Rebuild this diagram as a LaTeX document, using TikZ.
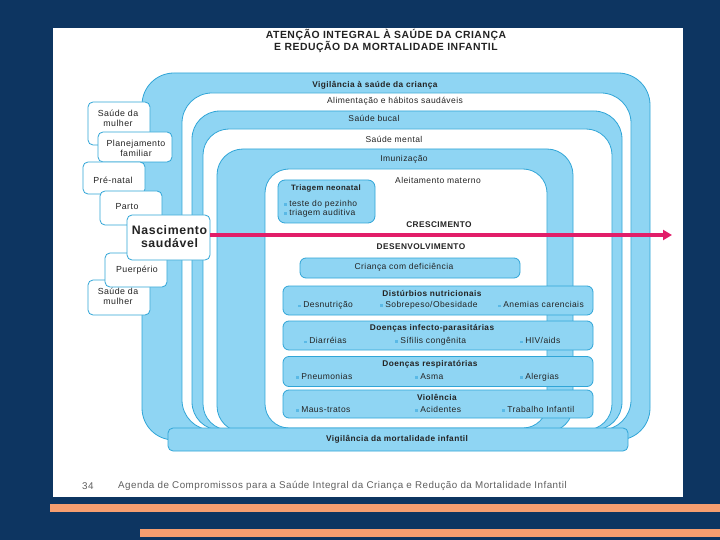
\documentclass[tikz,border=0pt]{standalone}
\usepackage{fontspec}
\setmainfont{Liberation Sans}[LetterSpace=5]
\usetikzlibrary{arrows.meta}
\definecolor{navy}{RGB}{13,53,97}
\definecolor{bandfill}{RGB}{143,213,243}
\definecolor{bandline}{RGB}{48,165,215}
\definecolor{pinkc}{RGB}{226,30,105}
\definecolor{stripec}{RGB}{245,158,112}
\definecolor{txt}{RGB}{35,35,35}
\definecolor{foot}{RGB}{95,95,95}
\definecolor{bulc}{RGB}{90,185,230}
\newcommand{\blt}{\textcolor{bulc}{\rule[0.6pt]{2.6pt}{2.6pt}}\hspace{2.5pt}}
\tikzset{
  band/.style={fill=bandfill, draw=bandline, line width=0.8pt},
  gapband/.style={fill=white, draw=bandline, line width=0.8pt},
  sidebox/.style={draw=bandline, fill=white, rounded corners=5pt, line width=0.8pt, inner sep=0pt},
  dbox/.style={fill=bandfill, draw=bandline, rounded corners=6pt, line width=0.8pt, inner sep=0pt},
  lbl/.style={font=\fontsize{8.5}{9.5}\selectfont, text=txt, inner sep=0pt, align=center, text height=6.2pt, text depth=1.8pt},
  lblb/.style={font=\bfseries\fontsize{8.3}{9.5}\selectfont, text=txt, inner sep=0pt, align=center, text height=6.2pt, text depth=1.8pt},
  item/.style={font=\fontsize{8.5}{9.5}\selectfont, text=txt, inner sep=0pt, anchor=west, text height=6.2pt, text depth=1.8pt},
  side/.style={font=\fontsize{8.8}{9.8}\selectfont, text=txt, inner sep=0pt, align=center},
}
\begin{document}
\begin{tikzpicture}[x=1pt,y=-1pt]
\useasboundingbox (0,0) rectangle (720,540);
% background and page
\fill[navy] (0,0) rectangle (720,540);
\fill[white] (53,28) rectangle (683,497);
\fill[stripec] (50,504) rectangle (720,512);
\fill[stripec] (140,529) rectangle (720,537);
% title
\node[font=\bfseries\fontsize{10.4}{11}\selectfont, text=txt, align=center, inner sep=0pt] (title) at (386,41)
  {ATENÇÃO INTEGRAL À SAÚDE DA CRIANÇA\\E REDUÇÃO DA MORTALIDADE INFANTIL};
% nested bands
\draw[band, rounded corners=32pt] (142,73) rectangle (650,440);
\draw[gapband, rounded corners=30pt] (182,93) rectangle (631,430);
\draw[band, rounded corners=28pt] (192,111) rectangle (622,430);
\draw[gapband, rounded corners=26pt] (203,129) rectangle (612,430);
\draw[band, rounded corners=26pt] (217,149) rectangle (573,432);
\draw[gapband, rounded corners=24pt] (265,169) rectangle (547,428);
% band labels
\node[lblb] (vig) at (375,85) {Vigilância à saúde da criança};
\node[lbl] (alim) at (395,101) {Alimentação e hábitos saudáveis};
\node[lbl] (bucal) at (374,119) {Saúde bucal};
\node[lbl] (mental) at (394,140) {Saúde mental};
\node[lbl] (imun) at (404,159) {Imunização};
% bottom bar
\node[band, rounded corners=5pt, minimum width=460pt, minimum height=23pt, inner sep=0pt] (bar) at (398,439.5) {};
\node[lblb] (barlbl) at (397,439.5) {Vigilância da mortalidade infantil};
% inner content
\node[dbox, rounded corners=7pt, minimum width=97pt, minimum height=43pt] (triag) at (326.5,201.5) {};
\node[lblb, font=\bfseries\fontsize{7.8}{9}\selectfont] (triagt) at (326,188.5) {Triagem neonatal};
\node[item] (tp) at (284,204) {\blt teste do pezinho};
\node[item] (ta) at (284,213.5) {\blt triagem auditiva};
\node[lbl] (aleit) at (438,181.5) {Aleitamento materno};
\node[lblb] (cresc) at (439,225.5) {CRESCIMENTO};
\node[lblb] (desenv) at (421,247.5) {DESENVOLVIMENTO};
\node[dbox, minimum width=220pt, minimum height=20pt] (defic) at (410,268) {};
\node[lbl] (defict) at (404,267.5) {Criança com deficiência};
% disease boxes
\node[dbox, minimum width=310pt, minimum height=29pt] (dist) at (438,300.5) {};
\node[lblb] (distt) at (432,294) {Distúrbios nutricionais};
\node[item] (d1) at (298,305.5) {\blt Desnutrição};
\node[item] (d2) at (380,305) {\blt Sobrepeso/Obesidade};
\node[item] (d3) at (498,305.5) {\blt Anemias carenciais};
\node[dbox, minimum width=310pt, minimum height=29pt] (inf) at (438,335.5) {};
\node[lblb] (inft) at (432,328.5) {Doenças infecto-parasitárias};
\node[item] (i1) at (304,341.5) {\blt Diarréias};
\node[item] (i2) at (395,341) {\blt Sífilis congênita};
\node[item] (i3) at (520,341.5) {\blt HIV/aids};
\node[dbox, minimum width=310pt, minimum height=30pt] (resp) at (438,371.5) {};
\node[lblb] (respt) at (430,364.5) {Doenças respiratórias};
\node[item] (r1) at (296,377) {\blt Pneumonias};
\node[item] (r2) at (415,377) {\blt Asma};
\node[item] (r3) at (520,377) {\blt Alergias};
\node[dbox, minimum width=310pt, minimum height=28pt] (viol) at (438,404) {};
\node[lblb] (violt) at (437,398) {Violência};
\node[item] (v1) at (296,410) {\blt Maus-tratos};
\node[item] (v2) at (415,410) {\blt Acidentes};
\node[item] (v3) at (502,410) {\blt Trabalho Infantil};
% left boxes (back to front)
\node[sidebox, minimum width=62pt, minimum height=43pt] (sm1) at (119,123.5) {};
\node[side] (sm1t) at (118,118) {Saúde da\\mulher};
\node[sidebox, minimum width=74pt, minimum height=30pt] (plan) at (135,147) {};
\node[side] (plant) at (136,148.5) {Planejamento\\familiar};
\node[sidebox, minimum width=62pt, minimum height=32pt] (pren) at (114,178) {};
\node[side] (prent) at (113,180) {Pré-natal};
\node[sidebox, minimum width=62pt, minimum height=34pt] (parto) at (131,208) {};
\node[side] (partot) at (127,207) {Parto};
\node[sidebox, minimum width=62pt, minimum height=35pt] (sm2) at (119,297.5) {};
\node[side] (sm2t) at (118,296) {Saúde da\\mulher};
\node[sidebox, minimum width=62pt, minimum height=34pt] (puer) at (136,270) {};
\node[side] (puert) at (137,270) {Puerpério};
\node[sidebox, minimum width=83pt, minimum height=45pt] (nasc) at (168.5,237.5) {};
\node[side, font=\bfseries\fontsize{12.3}{13.5}\selectfont] (nasct) at (169.5,236.5) {Nascimento\\saudável};
% arrow
\coordinate (arrend) at (672,235);
\draw[pinkc, line width=3.2pt, -{Triangle[length=9pt,width=10pt]}] (nasc.east |- arrend) -- (arrend);
% footer
\node[font=\fontsize{9.8}{11}\selectfont, text=foot, anchor=west, inner sep=0pt] (pg) at (82,486) {34};
\node[font=\fontsize{9.8}{11}\selectfont, text=foot, anchor=west, inner sep=0pt] (ftxt) at (118,486)
  {Agenda de Compromissos para a Saúde Integral da Criança e Redução da Mortalidade Infantil};
\end{tikzpicture}
\end{document}
